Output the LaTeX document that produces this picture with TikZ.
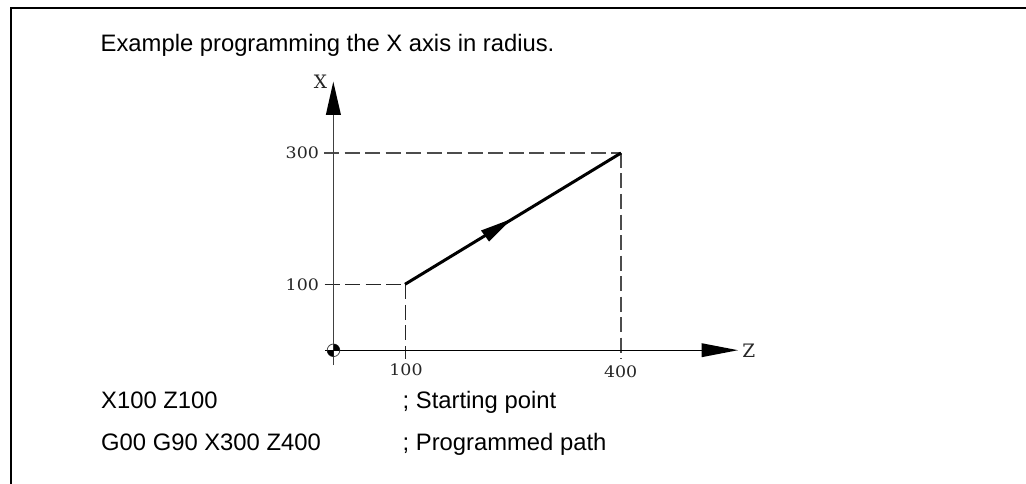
\documentclass[tikz,border=0pt]{standalone}
\usepackage{fontspec}
\setmainfont{Liberation Sans}
\newfontfamily\bodyfont{Liberation Sans}
\newfontfamily\lblfont[FakeStretch=1.1]{DejaVu Serif}
\newfontfamily\axfont{DejaVu Serif}
\tikzset{
  body/.style={anchor=base west,inner sep=0pt,font=\bodyfont\fontsize{23.8}{26}\selectfont},
  axlabel/.style={inner sep=0pt,font=\lblfont\fontsize{15.8}{17}\selectfont,text=black!85},
  axname/.style={inner sep=0pt,font=\axfont\fontsize{18.5}{20}\selectfont,text=black!85},
  axisline/.style={draw=black!75,line width=1.2pt},
  guide/.style={draw=black!70,line width=1.1pt,dash pattern=on 15pt off 5.5pt},
  path line/.style={draw=black,line width=3pt},
  frame/.style={draw=black,line width=2pt}
}
\begin{document}
\begin{tikzpicture}[x=1pt,y=-1pt]
\useasboundingbox (0,0) rectangle (1026,484);
\fill[white] (0,0) rectangle (1026,484);
% frame
\coordinate (fa) at (11,484);
\coordinate (fb) at (11,8);
\coordinate (fc) at (1026,8);
\draw[frame] (fa) -- (fb) -- (fc);
% key points
\coordinate (o) at (333.5,350.3);
\coordinate (xbot) at (333.3,365);
\coordinate (xtip) at (333.3,81.7);
\coordinate (xbase) at (333.3,115);
\coordinate (zleft) at (325,350.2);
\coordinate (ztip) at (738,350.2);
\coordinate (zbase) at (701.7,350.2);
\coordinate (p1) at (405,284.3);
\coordinate (p2) at (621,153);
\coordinate (g1) at (324.5,284.3);
\coordinate (g2) at (324,153);
\coordinate (g3) at (405,359);
\coordinate (g4) at (621,359);
% guides
\draw[guide] (g2) -- (p2);
\draw[guide] (p2) -- (g4);
\draw[guide,draw=black!85,line width=0.9pt] (g1) -- (p1);
\draw[guide,draw=black!85,line width=0.9pt] (p1) -- (g3);
% axes
\draw[axisline] (xbot) -- (xbase);
\draw[draw=black,line width=1pt] (zleft) -- (zbase);
\fill (xtip) -- (325.8,115) -- (341,115) -- cycle;
\fill (ztip) -- (701.7,343.2) -- (701.7,357.2) -- cycle;
% origin symbol: circle with two opposite filled quadrants
\draw[black!70,line width=0.8pt] (o) circle[radius=6.3];
\fill (o) -- ++(-6.3,0) arc[start angle=180,end angle=270,radius=6.3,y radius=-6.3] -- cycle;
\fill (o) -- ++(6.3,0) arc[start angle=0,end angle=90,radius=6.3,y radius=-6.3] -- cycle;
% path
\draw[path line] (p1) -- (p2);
\fill (511.5,219) -- (481,230.5) -- (489,241.5) -- cycle;
% labels
\node[body] (title) at (100.5,52) {Example programming the X axis in radius.};
\node[body] (l1) at (101,408) {X100 Z100};
\node[body] (l2) at (101,450) {G00 G90 X300 Z400};
\node[body] (c1) at (402.5,408) {; Starting point};
\node[body] (c2) at (402.5,450) {; Programmed path};
\node[axname] (xl) at (320.5,82) {X};
\node[axname] (zl) at (748.7,350.7) {Z};
\node[axlabel] (t300) at (302.3,152.8) {300};
\node[axlabel] (t100) at (302.3,285) {100};
\node[axlabel] (b100) at (406,369.5) {100};
\node[axlabel] (b400) at (620.7,371.5) {400};
\end{tikzpicture}
\end{document}
